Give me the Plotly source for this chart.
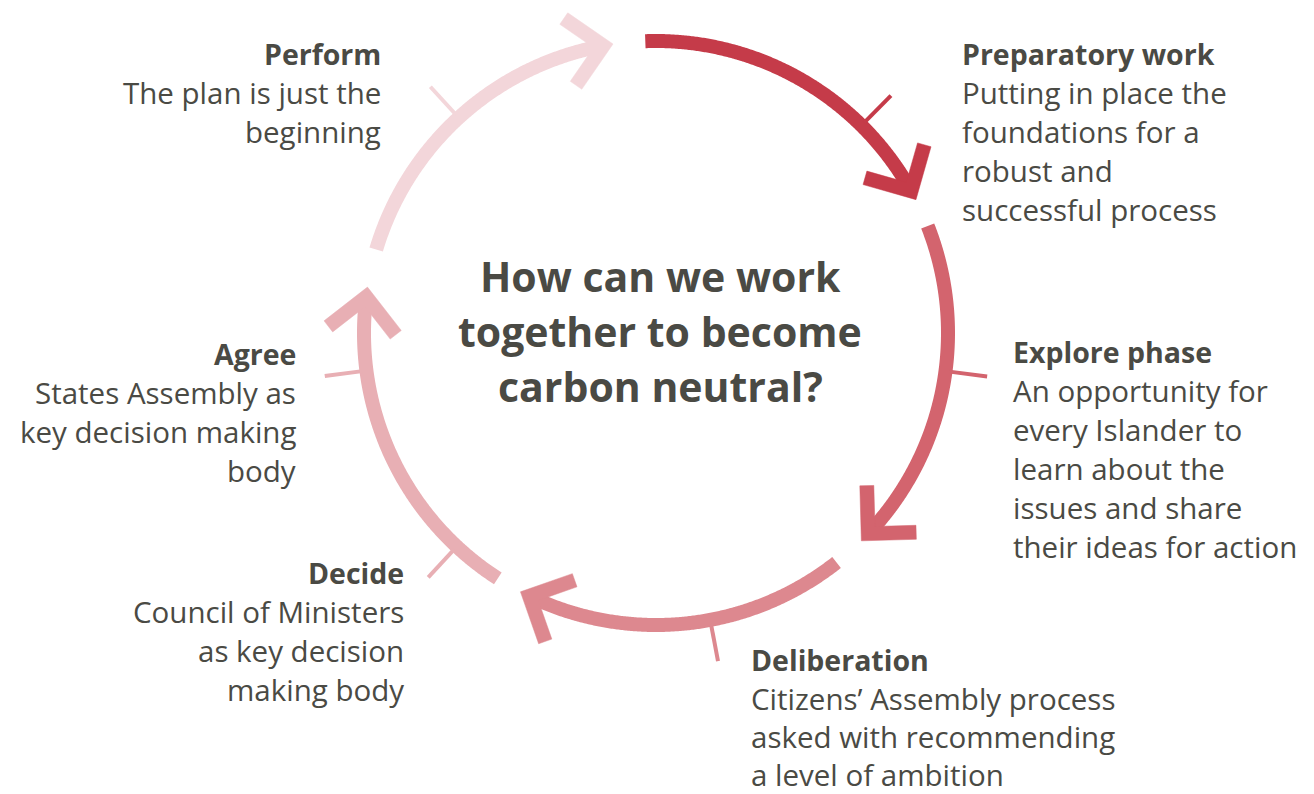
import numpy as np
import plotly.graph_objects as go

# ---------------- data ----------------
stages = ["Preparatory work", "Explore phase", "Deliberation", "Decide", "Agree", "Perform"]
descriptions = [
    ["Putting in place the", "foundations for a", "robust and", "successful process"],
    ["An opportunity for", "every Islander to", "learn about the", "issues and share", "their ideas for action"],
    ["Citizens’ Assembly process", "asked with recommending", "a level of ambition"],
    ["Council of Ministers", "as key decision", "making body"],
    ["States Assembly as", "key decision making", "body"],
    ["The plan is just the", "beginning"],
]
center_question = ["How can we work", "together to become", "carbon neutral?"]

# arc segments (degrees, clockwise travel = decreasing angle)
arc_start = [92.1, 21.5, -51.8, -122.8, -196.6]
arc_end = [29.1, -43.4, -115.7, -187.1, -259.6]
arc_colors = ["#C53B49", "#D3646E", "#DD888F", "#E8AFB4", "#F3D6DA"]

# tick marks for each stage (degrees) and which arc they belong to
tick_angle = [45.3, -7.5, -79.3, -133.0, -172.6, 132.5]
tick_arc = [0, 1, 2, 3, 3, 4]

# ---------------- layout geometry ----------------
W, H = 1314, 794
CX, CY, R = 656, 333, 292
ARC_W = 14
HEAD_LEN, HEAD_ANG = 48, 45
TICK_IN, TICK_OUT = 296, 334
TEXT_COLOR = "#4A4A44"
FONT = "Open Sans"
BODY_SIZE, HEAD_SIZE, CENTER_SIZE = 29.5, 28.5, 41

# label block anchors: (x, y of heading, xanchor, line height)
label_pos = [
    (960, 54, "left", 38.8),
    (1011, 352, "left", 38.8),
    (749, 660, "left", 38.2),
    (406, 573, "right", 38.8),
    (298, 354, "right", 38.8),
    (383, 54, "right", 38.8),
]


def pt(theta_deg, r):
    t = np.radians(theta_deg)
    return CX + r * np.cos(t), CY - r * np.sin(t)


def rot(v, ang):
    return np.array([v[0] * np.cos(ang) - v[1] * np.sin(ang),
                     v[0] * np.sin(ang) + v[1] * np.cos(ang)])


fig = go.Figure()

# arcs
for s, e, c in zip(arc_start, arc_end, arc_colors):
    th = np.linspace(s, e, 240)
    x, y = pt(th, R)
    fig.add_trace(go.Scatter(x=x, y=y, mode="lines",
                             line=dict(color=c, width=ARC_W, simplify=False),
                             hoverinfo="skip", showlegend=False))
    # arrow head (chevron polygon) at arc end
    t = np.radians(e)
    T = np.array(pt(e, R))
    d = np.array([np.sin(t), np.cos(t)])  # travel direction in screen coords
    b = -d
    a = np.radians(HEAD_ANG)
    hw = ARC_W / 2
    O = T - hw / np.sin(a) * b
    N = T + hw / np.sin(a) * b
    pts = [O]
    for sign in (1, -1):
        u = rot(b, sign * a)
        n = rot(u, sign * np.pi / 2)  # outward normal (away from bisector)
        A = T + HEAD_LEN * u
        if sign == 1:
            pts += [A + hw * n, A - hw * n, N]
        else:
            pts += [A - hw * n, A + hw * n, O]
    px = [p[0] for p in pts]
    py = [p[1] for p in pts]
    fig.add_trace(go.Scatter(x=px, y=py, mode="lines", fill="toself", fillcolor=c,
                             line=dict(color=c, width=0.5, simplify=False),
                             hoverinfo="skip", showlegend=False))

# ticks
for ang, ai in zip(tick_angle, tick_arc):
    x0, y0 = pt(ang, TICK_IN)
    x1, y1 = pt(ang, TICK_OUT)
    fig.add_trace(go.Scatter(x=[x0, x1], y=[y0, y1], mode="lines",
                             line=dict(color=arc_colors[ai], width=4),
                             hoverinfo="skip", showlegend=False))

annotations = []
for name, desc, (lx, ly, anc, lh) in zip(stages, descriptions, label_pos):
    annotations.append(dict(x=lx, y=ly, xref="x", yref="y", text=f"<b>{name}</b>",
                            showarrow=False, xanchor=anc, yanchor="middle",
                            font=dict(family=FONT, size=HEAD_SIZE, color=TEXT_COLOR)))
    for i, line in enumerate(desc):
        annotations.append(dict(x=lx, y=ly + (i + 1) * lh, xref="x", yref="y", text=line,
                                showarrow=False, xanchor=anc, yanchor="middle",
                                font=dict(family=FONT, size=BODY_SIZE, color=TEXT_COLOR)))

for i, line in enumerate(center_question):
    annotations.append(dict(x=660, y=276 + i * 55, xref="x", yref="y", text=f"<b>{line}</b>",
                            showarrow=False, xanchor="center", yanchor="middle",
                            font=dict(family=FONT, size=CENTER_SIZE, color=TEXT_COLOR)))

fig.update_layout(
    width=W, height=H,
    margin=dict(l=0, r=0, t=0, b=0),
    paper_bgcolor="white", plot_bgcolor="white",
    xaxis=dict(range=[0, W], visible=False, fixedrange=True),
    yaxis=dict(range=[H, 0], visible=False, fixedrange=True),
    annotations=annotations,
    showlegend=False,
)

fig.write_html("out.html", config={"displayModeBar": False},
               post_script="document.body.style.margin='0';document.body.style.overflow='hidden';")
